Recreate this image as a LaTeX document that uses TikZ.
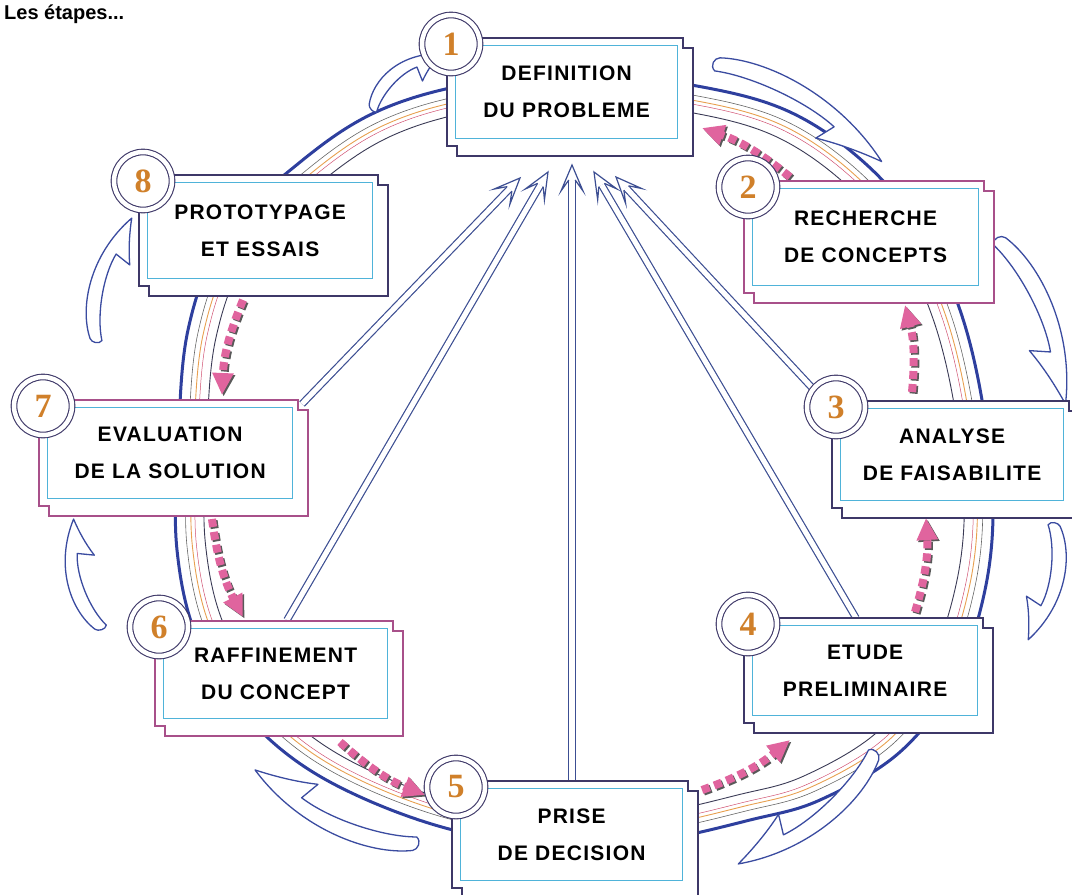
\documentclass[tikz,border=0pt]{standalone}
\usepackage{fontspec}
\setmainfont{Liberation Sans}
\newfontfamily\boxfont[LetterSpace=6]{Liberation Sans}
\newfontfamily\numfont{Liberation Serif}
\usetikzlibrary{arrows.meta,calc}

\definecolor{ringblue}{HTML}{2E3F9E}
\definecolor{ringorange}{HTML}{E8A050}
\definecolor{ringred}{HTML}{D05070}
\definecolor{ringdark}{HTML}{3A3A55}
\definecolor{dotpink}{HTML}{E0649E}
\definecolor{swooshblue}{HTML}{3A4BA0}
\definecolor{arrowblue}{HTML}{3C4E92}
\definecolor{innerblue}{HTML}{4FB3D9}
\definecolor{framenavy}{HTML}{3E3868}
\definecolor{framepink}{HTML}{A8508A}
\definecolor{numorange}{HTML}{D0802A}

\tikzset{
  frameline/.style={line width=1.3pt, fill=white, line join=miter},
  inbox/.style={draw=innerblue, line width=1.2pt, fill=white, inner sep=0pt,
    align=center, font=\boxfont\bfseries\fontsize{21}{37}\selectfont},
  numcircle/.style={circle, minimum size=58pt, inner sep=0pt, fill=white,
    draw=framenavy, line width=1.1pt, double=white, double distance=4.5pt,
    font=\numfont\bfseries\fontsize{34}{34}\selectfont, text=numorange},
  shaft/.style={draw=arrowblue, line width=1.2pt, double=white, double distance=5.2pt},
  ahead/.style={draw=arrowblue, line width=1.2pt, fill=white, line join=miter},
  dotpinkline/.style={draw=dotpink, line width=8pt, dash pattern=on 8pt off 5pt,
    -{Triangle[length=22pt,width=20pt]}},
  dotshade/.style={draw=black!65, line width=8pt, dash pattern=on 8pt off 5pt,
    -{Triangle[length=22pt,width=20pt]}},
  swooshline/.style={draw=swooshblue, line width=1.3pt, fill=white, line join=round},
  swoosh/.pic={
    \draw[swooshline] (0,-6) .. controls (40,-28) and (120,-34) .. (190,2)
      .. controls (170,4) and (145,8) .. (122,15)
      -- (132,-4)
      .. controls (95,-12) and (35,-6) .. (2,8)
      .. controls (-5,6) and (-5,-3) .. cycle;
  }
}

\newcommand\ringline[2]{%
  \begin{scope}[shift={(583,460)},scale=#1,shift={(-583,-460)}]
  \draw[#2] plot[smooth cycle,tension=0.6] coordinates {
    (583,74) (697,86) (790,112) (867,165) (925,235) (960,310) (982,400)
    (993,500) (985,590) (955,680) (900,752) (820,800) (750,820) (660,840)
    (580,845) (453,830) (330,782) (250,720) (198,640) (177,550) (178,450)
    (188,330) (225,235) (299,163) (376,112) (470,84)};
  \end{scope}}

\newcommand\dotarrow[2]{%
  \draw[dotshade, transform canvas={xshift=1.6pt,yshift=-1.6pt}] (#1) to[bend right=10] (#2);
  \draw[dotpinkline] (#1) to[bend right=10] (#2);}

\newcommand\bigarrow[2]{%
  \draw[shaft, shorten >=15pt] (#1) -- (#2);
  \draw[ahead] ($(#2)!15pt!(#1)!3.2pt!90:(#2)$) -- ($(#2)!26pt!(#1)!11pt!90:(#2)$)
    -- (#2) -- ($(#2)!26pt!(#1)!11pt!-90:(#2)$) -- ($(#2)!15pt!(#1)!3.2pt!-90:(#2)$);}

% #1 name, #2 x, #3 y, #4 w, #5 h, #6 frame colour, #7 number, #8 text
\newcommand\stepbox[8]{%
  \draw[frameline, draw=#6] ({#2-8},{#3-7}) -- ({#2+#4+6},{#3-7}) -- ({#2+#4+6},{#3+3})
    -- ({#2+#4+16},{#3+3}) -- ({#2+#4+16},{#3+#5+18}) -- ({#2+2},{#3+#5+18})
    -- ({#2+2},{#3+#5+8}) -- ({#2-8},{#3+#5+8}) -- cycle;
  \node[inbox, minimum width=#4pt, minimum height=#5pt, anchor=north west] (#1) at (#2,#3) {#8};
  \node[numcircle] (#1n) at ({#2-4},{#3-1}) {#7};}

\begin{document}
\begin{tikzpicture}[x=1pt,y=-1pt]
\useasboundingbox (0,0) rectangle (1072,895);
\clip (0,0) rectangle (1072,895);

% title
\node[anchor=base west, font=\bfseries\fontsize{20}{22}\selectfont, inner sep=0pt] (title) at (4,19) {Les étapes...};

% ring band
\ringline{1}{draw=ringblue, line width=3pt}
\ringline{0.975}{draw=black!60, line width=0.6pt}
\ringline{0.962}{draw=ringorange, line width=0.9pt}
\ringline{0.952}{draw=ringred, line width=0.5pt}
\ringline{0.93}{draw=ringdark, line width=0.9pt}

% outer swoosh arrows (clockwise)
\pic[rotate=-30.3, xscale=1.01] at (717,63) {swoosh};
\pic[rotate=-67.6, xscale=0.93] at (1000,240) {swoosh};
\pic[rotate=-102.3, xscale=0.62, yscale=0.85] at (1055,525) {swoosh};
\pic[rotate=-140.8, xscale=0.92] at (875,755) {swoosh};
\pic[rotate=155.5, xscale=0.93] at (415,845) {swoosh};
\pic[rotate=104.5, xscale=0.59, yscale=0.85] at (100,628) {swoosh};
\pic[rotate=74, xscale=0.67, yscale=0.85] at (95,340) {swoosh};
\pic[rotate=39.5, xscale=0.46, yscale=0.75] at (372,108) {swoosh};

% dotted arrows (8 -> 7 -> ... -> 1)
\coordinate (d21s) at (790,177); \coordinate (d21e) at (702,128);
\coordinate (d32s) at (912,392); \coordinate (d32e) at (905,305);
\coordinate (d43s) at (915,612); \coordinate (d43e) at (926,518);
\coordinate (d54s) at (702,790); \coordinate (d54e) at (790,740);
\coordinate (d65s) at (340,742); \coordinate (d65e) at (425,795);
\coordinate (d76s) at (212,519); \coordinate (d76e) at (243,617);
\coordinate (d87s) at (243,300); \coordinate (d87e) at (222,395);
\dotarrow{d21s}{d21e}
\dotarrow{d32s}{d32e}
\dotarrow{d43s}{d43e}
\dotarrow{d54s}{d54e}
\dotarrow{d65s}{d65e}
\dotarrow{d76s}{d76e}
\dotarrow{d87s}{d87e}

% big hollow arrows towards step 1
\coordinate (a7s) at (302,404); \coordinate (a7t) at (520,178);
\coordinate (a6s) at (287,620); \coordinate (a6t) at (548,172);
\coordinate (a5s) at (572,783); \coordinate (a5t) at (572,165);
\coordinate (a4s) at (856,618); \coordinate (a4t) at (594,172);
\coordinate (a3s) at (816,392); \coordinate (a3t) at (616,177);
\bigarrow{a7s}{a7t}
\bigarrow{a6s}{a6t}
\bigarrow{a5s}{a5t}
\bigarrow{a4s}{a4t}
\bigarrow{a3s}{a3t}

% step boxes
\stepbox{b1}{455}{45}{222}{93}{framenavy}{1}{DEFINITION\\DU PROBLEME}
\stepbox{b2}{752}{188}{226}{97}{framepink}{2}{RECHERCHE\\DE CONCEPTS}
\stepbox{b3}{840}{408}{223}{92}{framenavy}{3}{ANALYSE\\DE FAISABILITE}
\stepbox{b4}{752}{625}{225}{90}{framenavy}{4}{ETUDE\\PRELIMINAIRE}
\stepbox{b5}{460}{788}{222}{92}{framenavy}{5}{PRISE\\DE DECISION}
\stepbox{b6}{163}{628}{224}{90}{framepink}{6}{RAFFINEMENT\\DU CONCEPT}
\stepbox{b7}{47}{407}{245}{91}{framepink}{7}{EVALUATION\\DE LA SOLUTION}
\stepbox{b8}{147}{182}{225}{96}{framenavy}{8}{PROTOTYPAGE\\ET ESSAIS}
\end{tikzpicture}
\end{document}
